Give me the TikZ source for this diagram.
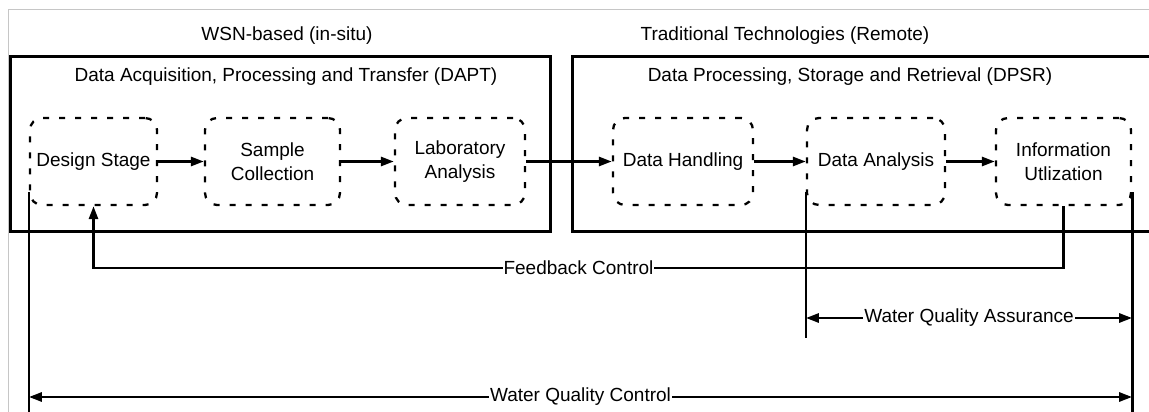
\documentclass[tikz,border=0pt]{standalone}
\usepackage{fontspec}
\setmainfont{Liberation Sans}
\usetikzlibrary{arrows.meta,calc}
\begin{document}
\begin{tikzpicture}[x=1pt,y=-1pt,
  every node/.style={font=\fontsize{19}{24.5}\selectfont},
  frame/.style={line width=3pt},
  stage/.style={draw,line width=2.3pt,dash pattern=on 6pt off 10pt,rounded corners=12pt,align=center,inner sep=0pt,minimum height=87pt},
  conn/.style={line width=2.7pt},
  arr/.style={conn,-{Triangle[length=13pt,width=9pt]}},
  darr/.style={conn,{Triangle[length=13pt,width=9pt]}-{Triangle[length=13pt,width=9pt]}},
  lab/.style={fill=white,inner sep=1pt}]
\useasboundingbox (0,0) rectangle (1149,412);
\begin{scope}
\clip (0,0) rectangle (1149,412);
\fill[white] (0,0) rectangle (1149,412);
\draw[gray!45,line width=1pt] (8,420) -- (8,10) -- (1160,10);
\draw[frame] (10,57) rectangle (550,231);
\draw[frame] (572,57) rectangle (1170,231);
\node (t1) at (287,36) {WSN-based (in-situ)};
\node (t2) at (785,36) {Traditional Technologies (Remote)};
\node (h1) at (286,77) {Data Acquisition, Processing and Transfer (DAPT)};
\node (h2) at (850,77) {Data Processing, Storage and Retrieval (DPSR)};
\node[stage,minimum width=127pt] (ds) at (93.5,161.5) {Design Stage};
\node[stage,minimum width=135pt] (sc) at (272.5,161.5) {Sample\\Collection};
\node[stage,minimum width=130pt] (la) at (460,161.5) {Laboratory\\Analysis};
\node[stage,minimum width=140pt] (dh) at (683,161.5) {Data Handling};
\node[stage,minimum width=138pt] (da) at (876,161.5) {Data Analysis};
\node[stage,minimum width=135pt] (iu) at (1063.5,161.5) {Information\\Utlization};
\draw[arr] (ds) -- (sc);
\draw[arr] (sc) -- (la);
\draw[arr] (la) -- (dh);
\draw[arr] (dh) -- (da);
\draw[arr] (da) -- (iu);
% feedback
\coordinate (fbR) at (iu.south |- 0,268);
\coordinate (fbL) at (ds.south |- 0,268);
\draw[arr] (iu.south) -- (fbR) -- node[lab] {Feedback Control} (fbL) -- (ds.south);
% vertical extension lines
\coordinate (lTop) at ($(ds.south west)+(0,-14)$);
\coordinate (lBot) at (lTop |- 0,420);
\coordinate (rTop) at ($(iu.south east)+(0,-14)$);
\coordinate (rBot) at (rTop |- 0,420);
\coordinate (aTop) at ($(da.south west)+(0,-14)$);
\coordinate (aBot) at (aTop |- 0,338);
\draw[conn] (lTop) -- (lBot);
\draw[conn] (rTop) -- (rBot);
\draw[conn] (aTop) -- (aBot);
% water quality control
\coordinate (wcL) at (lTop |- 0,397);
\coordinate (wcR) at (rTop |- 0,397);
\draw[darr] (wcL) -- node[lab] {Water Quality Control} (wcR);
% water quality assurance
\coordinate (waL) at (aTop |- 0,318);
\coordinate (waR) at (rTop |- 0,318);
\draw[darr] (waL) -- node[lab] {Water Quality Assurance} (waR);
\end{scope}
\end{tikzpicture}
\end{document}
